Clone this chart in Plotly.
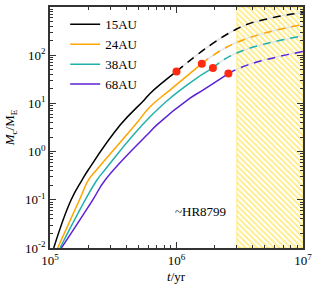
import plotly.graph_objects as go
import math

# ---- data ----
labels = ["15AU", "24AU", "38AU", "68AU"]
colors = ["#000000", "#ffa500", "#20b2aa", "#5b22d6"]

t_15 = [1.07e5, 1.47e5, 1.80e5, 2.01e5, 3.60e5, 5.56e5, 6.21e5, 1.0e6, 2.96e6, 5.48e6, 1.0e7]
m_15 = [0.01, 0.1, 0.261, 0.420, 3.59, 11.8, 16.3, 46.1, 345, 583, 759]
t_24 = [1.15e5, 1.71e5, 2.02e5, 2.34e5, 4.72e5, 6.21e5, 8.91e5, 1.585e6, 2.96e6, 1.0e7]
m_24 = [0.01, 0.1, 0.261, 0.420, 3.59, 8.61, 19.1, 66.8, 182, 434]
t_38 = [1.20e5, 1.90e5, 2.36e5, 2.72e5, 6.21e5, 1.28e6, 1.94e6, 2.96e6, 1.0e7]
m_38 = [0.01, 0.1, 0.261, 0.420, 5.33, 26.7, 54.5, 110, 251]
t_68 = [1.23e5, 2.18e5, 2.74e5, 6.21e5, 7.0e5, 1.28e6, 1.63e6, 2.57e6, 3.67e6, 1.0e7]
m_68 = [0.01, 0.1, 0.261, 2.61, 3.59, 12.8, 19.1, 41.5, 63.1, 119]

# formation (red dot) times for each curve
t_dot = [1.0e6, 1.585e6, 1.94e6, 2.57e6]
m_dot = [46.1, 66.8, 54.5, 41.5]

hatch_t = [3e6, 1e7]
hatch_m = [1e-2, 1e3]
note_text = "~HR8799"
note_t, note_m = 1.55e6, 0.058

series_t = [t_15, t_24, t_38, t_68]
series_m = [m_15, m_24, m_38, m_68]

FONT = "Liberation Serif"
SM = 1.3

fig = go.Figure()

# hatched region
fig.add_trace(go.Scatter(
    x=[hatch_t[0], hatch_t[1], hatch_t[1], hatch_t[0], hatch_t[0]],
    y=[hatch_m[0], hatch_m[0], hatch_m[1], hatch_m[1], hatch_m[0]],
    mode="lines", fill="toself", line=dict(width=0.8, color="rgba(255,215,0,0.6)"),
    fillcolor="rgba(0,0,0,0)",
    fillpattern=dict(shape="\\", fgcolor="#ffd700", bgcolor="rgba(255,255,255,0)", size=4, solidity=0.45),
    showlegend=False, hoverinfo="skip"))

for lab, col, ts, ms, td in zip(labels, colors, series_t, series_m, t_dot):
    solid_t = [t for t in ts if t <= td]
    solid_m = [m for t, m in zip(ts, ms) if t <= td]
    dash_t = [t for t in ts if t >= td]
    dash_m = [m for t, m in zip(ts, ms) if t >= td]
    fig.add_trace(go.Scatter(x=solid_t, y=solid_m, mode="lines", name=lab,
                             line=dict(color=col, width=1.5, shape="spline", smoothing=SM)))
    fig.add_trace(go.Scatter(x=dash_t, y=dash_m, mode="lines", showlegend=False,
                             line=dict(color="#e4e4e4", width=1.5, shape="spline", smoothing=SM)))
    fig.add_trace(go.Scatter(x=dash_t, y=dash_m, mode="lines", showlegend=False,
                             line=dict(color=col, width=1.5, dash="8px,6px", shape="spline", smoothing=SM)))

fig.add_trace(go.Scatter(x=t_dot, y=m_dot, mode="markers", showlegend=False,
                         marker=dict(color="#ff2a10", size=8)))

# annotations on log axes take log10 coordinates
fig.add_annotation(x=math.log10(note_t), y=math.log10(note_m), xref="x", yref="y", text=note_text,
                   showarrow=False, font=dict(family=FONT, size=13, color="black"),
                   xanchor="center", yanchor="middle")

# axis titles
fig.add_annotation(x=0.5, y=-0.08, xref="paper", yref="paper", text="<i>t</i>/yr", showarrow=False,
                   font=dict(family=FONT, size=13, color="black"), xanchor="center", yanchor="top")
fig.add_annotation(x=-0.155, y=0.5, xref="paper", yref="paper", text="<i>M</i><sub>c</sub>/M<sub>E</sub>",
                   showarrow=False, textangle=-90,
                   font=dict(family=FONT, size=13, color="black"), xanchor="center", yanchor="middle")

xt = [1e5, 1e6, 1e7]
yt = [1e-2, 1e-1, 1e0, 1e1, 1e2, 1e3]
axis_common = dict(showline=True, linecolor="#333333", linewidth=1.5, mirror="allticks",
                   ticks="inside", ticklen=6, tickwidth=1, tickcolor="#333333",
                   showgrid=False, zeroline=False, automargin=False,
                   minor=dict(ticks="inside", ticklen=3, tickcolor="#333333", dtick="D1", showgrid=False),
                   tickfont=dict(family=FONT, size=13, color="black"))

fig.update_xaxes(type="log", range=[5, 7], tickvals=xt,
                 ticktext=["10<sup>5</sup>", "10<sup>6</sup>", "10<sup>7</sup>"],
                 **axis_common)
fig.update_yaxes(type="log", range=[-2, 3], tickvals=yt,
                 ticktext=["10<sup>-2</sup>", "10<sup>-1</sup>", "10<sup>0</sup>", "10<sup>1</sup>", "10<sup>2</sup>", "10<sup>3</sup>"],
                 **axis_common)

fig.update_layout(
    width=314, height=286,
    margin=dict(l=50, r=11, t=7, b=38),
    paper_bgcolor="white", plot_bgcolor="white",
    legend=dict(x=0.06, y=0.99, xanchor="left", yanchor="top", bgcolor="rgba(0,0,0,0)",
                font=dict(family=FONT, size=13, color="black"), tracegroupgap=0, itemwidth=30),
)

fig.write_html("out.html", config={"displayModeBar": False},
               post_script="document.body.style.margin='0';document.body.style.overflow='hidden';")
